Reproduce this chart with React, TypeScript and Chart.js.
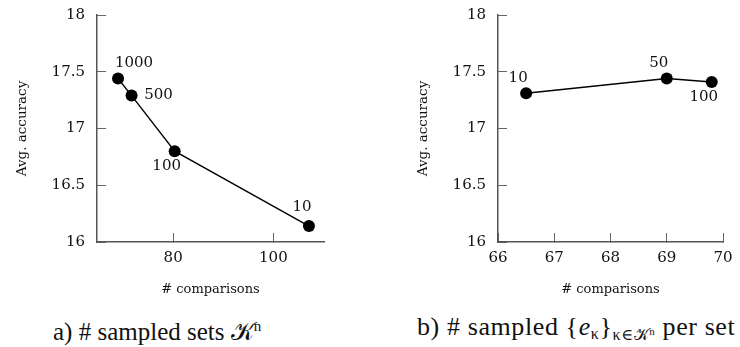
import React, { useEffect, useRef } from "react";
import { Chart, registerables } from "chart.js";

Chart.register(...registerables);

// Panel a) — # sampled sets
const xA = [69.0, 71.7, 80.3, 107.1];
const yA = [17.44, 17.29, 16.8, 16.14];
const labelsA = ["1000", "500", "100", "10"];
const xTicksA = [80, 100];

// Panel b) — # sampled e per set
const xB = [66.5, 69.0, 69.8];
const yB = [17.31, 17.44, 17.41];
const labelsB = ["10", "50", "100"];
const xTicksB = [66, 67, 68, 69, 70];

const yTicks = [16, 16.5, 17, 17.5, 18];
const yTitle = "Avg. accuracy";
const xTitle = "# comparisons";

// label placement (style only)
const placeA = ["ne", "e", "sw", "nnw"];
const placeB = ["nw", "nw", "sw"];
const OFFSETS: Record<string, [number, number]> = {
  ne: [16, -15],
  e: [27, 0],
  sw: [-8, 15],
  nw: [-8, -15],
  nnw: [-7, -19],
};

const FONT = "DejaVu Serif";

const labelPlugin = {
  id: "pointLabels",
  afterDatasetsDraw(chart: any, _args: any, opts: any) {
    const ctx = chart.ctx;
    const meta = chart.getDatasetMeta(0);
    ctx.save();
    ctx.font = `15px '${FONT}'`;
    ctx.fillStyle = "#111";
    ctx.textAlign = "center";
    ctx.textBaseline = "middle";
    meta.data.forEach((pt: any, i: number) => {
      const [dx, dy] = OFFSETS[opts.places[i]];
      ctx.fillText(opts.labels[i], pt.x + dx, pt.y + dy);
    });
    ctx.restore();
  },
};

type PanelProps = {
  left: number;
  xs: number[];
  ys: number[];
  labels: string[];
  places: string[];
  xTicks: number[];
  xMin: number;
  xMax: number;
  padLeft: number;
  padRight: number;
};

function Panel(p: PanelProps) {
  const ref = useRef<HTMLCanvasElement>(null);
  useEffect(() => {
    const chart = new Chart(ref.current!, {
      type: "scatter",
      data: {
        datasets: [
          {
            data: p.xs.map((x, i) => ({ x, y: p.ys[i] })),
            showLine: true,
            borderColor: "#000",
            borderWidth: 1.4,
            backgroundColor: "#000",
            pointBackgroundColor: "#000",
            pointBorderWidth: 0,
            pointRadius: 6,
          },
        ],
      },
      options: {
        responsive: false,
        animation: false,
        devicePixelRatio: 1,
        layout: { padding: { left: p.padLeft, right: p.padRight, top: 15, bottom: 0 } },
        plugins: {
          legend: { display: false },
          tooltip: { enabled: false },
          pointLabels: { labels: p.labels, places: p.places },
        } as any,
        scales: {
          x: {
            type: "linear",
            min: p.xMin,
            max: p.xMax,
            afterBuildTicks: (s: any) => {
              s.ticks = p.xTicks.map((v) => ({ value: v }));
            },
            afterFit: (s: any) => {
              s.height = 63;
              s.paddingLeft = 0;
              s.paddingRight = 0;
            },
            ticks: {
              autoSkip: false,
              maxRotation: 0,
              padding: 16,
              color: "#111",
              font: { family: FONT, size: 15 },
              callback: (v: any) => String(v),
            },
            grid: { drawOnChartArea: false, tickLength: -9, color: "#666", lineWidth: 1 },
            border: { color: "#555", width: 1.5 },
            title: {
              display: true,
              text: xTitle,
              color: "#111",
              font: { family: FONT, size: 13 },
              padding: { top: 0, bottom: 8 },
            },
          },
          y: {
            type: "linear",
            min: 16,
            max: 18,
            afterBuildTicks: (s: any) => {
              s.ticks = yTicks.map((v) => ({ value: v }));
            },
            afterFit: (s: any) => {
              s.width = 97;
              s.paddingTop = 0;
              s.paddingBottom = 0;
            },
            ticks: {
              autoSkip: false,
              padding: 21,
              color: "#111",
              font: { family: FONT, size: 15 },
              callback: (v: any) => String(v),
            },
            grid: { drawOnChartArea: false, tickLength: -9, color: "#666", lineWidth: 1 },
            border: { color: "#555", width: 1.5 },
            title: {
              display: true,
              text: yTitle,
              color: "#111",
              font: { family: FONT, size: 13.5 },
              padding: { top: 14, bottom: 0 },
            },
          },
        },
      } as any,
      plugins: [labelPlugin],
    });
    return () => chart.destroy();
  }, []);
  return (
    <canvas
      ref={ref}
      width={370}
      height={305}
      style={{ position: "absolute", left: p.left, top: 0, width: 370, height: 305 }}
    />
  );
}

const captionStyle: React.CSSProperties = {
  position: "absolute",
  top: 314,
  fontFamily: "'Liberation Serif', 'DejaVu Serif', serif",
  fontSize: 25,
  lineHeight: "25px",
  whiteSpace: "nowrap",
  color: "#111",
};

export default function App() {
  return (
    <div style={{ position: "absolute", left: 0, top: 0, width: 740, height: 347, background: "#fff", overflow: "hidden" }}>
      <Panel left={0} xs={xA} ys={yA} labels={labelsA} places={placeA} xTicks={xTicksA} xMin={64.8} xMax={110.1} padLeft={0} padRight={46} />
      <Panel left={370} xs={xB} ys={yB} labels={labelsB} places={placeB} xTicks={xTicksB} xMin={66} xMax={70} padLeft={31} padRight={17} />
      <div style={{ ...captionStyle, left: 53 }}>
        a) # sampled sets 𝒦<sup style={{ fontSize: 15, verticalAlign: 9 }}>n</sup>
      </div>
      <div style={{ ...captionStyle, left: 417, fontSize: 26, lineHeight: "26px", top: 314, letterSpacing: "0.6px" }}>
        b) # sampled {"{"}
        <i>e</i>
        <sub style={{ fontSize: 16, verticalAlign: -4 }}>κ</sub>
        {"}"}
        <sub style={{ fontSize: 16, verticalAlign: -5 }}>
          κ∈𝒦<sup style={{ fontSize: 11, verticalAlign: 5 }}>n</sup>
        </sub>{" "}
        per set
      </div>
    </div>
  );
}
